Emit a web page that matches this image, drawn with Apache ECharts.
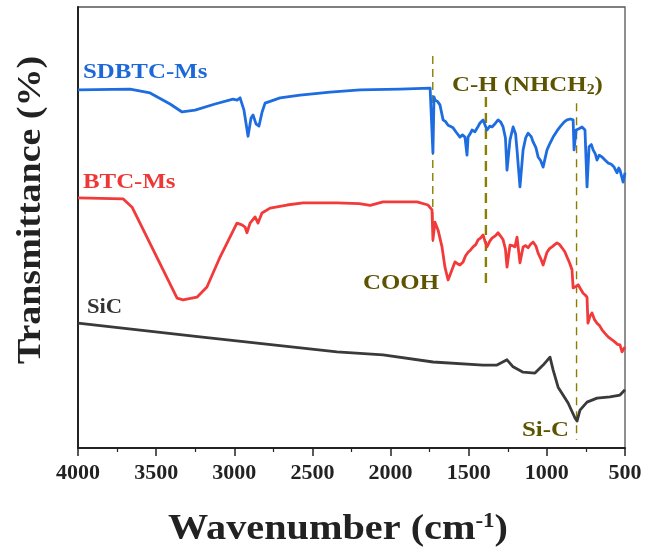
<!DOCTYPE html>
<html>
<head>
<meta charset="utf-8">
<style>
  html, body { margin: 0; padding: 0; background: #ffffff; }
  #chart { width: 652px; height: 559px; }
</style>
<script src="https://cdn.jsdelivr.net/npm/echarts@6/dist/echarts.min.js"></script>
</head>
<body>
<div id="chart"></div>
<script>
// FTIR spectra: [wavenumber (cm-1), transmittance (a.u., offset)]
const sdbtcMs = [
  [4000, 81.2], [3667, 81.4], [3539, 80.5], [3411, 78.0], [3334, 76.2], [3251, 76.6],
  [3123, 78.0], [3008, 79.1], [2982, 78.9], [2963, 79.4], [2938, 76.6], [2912, 70.7],
  [2893, 74.8], [2880, 75.5], [2861, 73.5], [2842, 73.0], [2822, 76.2], [2803, 78.2],
  [2707, 79.4], [2579, 80.0], [2387, 80.7], [2195, 81.2], [1939, 81.4], [1747, 81.6],
  [1735, 81.6], [1729, 66.9], [1722, 79.6], [1716, 78.9], [1700, 78.6], [1684, 77.8],
  [1664, 74.4], [1648, 74.0], [1632, 73.2], [1615, 72.9], [1600, 72.6], [1580, 71.6],
  [1568, 71.9], [1556, 70.5], [1540, 71.0], [1524, 70.5], [1511, 66.4], [1504, 70.5],
  [1490, 71.3], [1479, 72.1], [1460, 71.7], [1445, 72.6], [1428, 73.7], [1408, 74.4],
  [1395, 73.2], [1383, 72.1], [1365, 73.0], [1351, 72.8], [1330, 73.6], [1312, 74.4],
  [1295, 73.9], [1280, 72.8], [1265, 70.3], [1255, 63.0], [1236, 69.8], [1216, 72.8],
  [1200, 71.2], [1191, 67.6], [1172, 59.2], [1152, 67.6], [1135, 70.4], [1120, 71.4],
  [1100, 70.6], [1088, 69.4], [1070, 68.1], [1056, 66.0], [1040, 65.2], [1024, 63.7],
  [999, 67.6], [980, 69.1], [960, 70.5], [935, 71.9], [916, 72.8], [890, 73.9],
  [871, 74.4], [850, 74.6], [832, 74.4], [826, 67.6], [813, 72.1], [795, 72.4],
  [775, 72.8], [756, 72.1], [743, 59.2], [730, 68.3], [715, 68.8], [704, 67.6],
  [690, 66.7], [679, 65.3], [665, 66.4], [647, 66.0], [628, 65.3], [608, 64.6],
  [590, 64.4], [570, 63.7], [551, 62.4], [540, 63.5], [532, 63.0], [512, 60.3], [500, 62.4]
];

const btcMs = [
  [4000, 56.7], [3712, 56.5], [3654, 54.6], [3366, 34.0], [3328, 33.6], [3239, 34.2],
  [3175, 36.5], [3091, 43.3], [2983, 51.0], [2951, 50.6], [2931, 50.1], [2919, 48.8],
  [2899, 51.0], [2867, 52.4], [2848, 51.0], [2823, 53.3], [2771, 54.4], [2663, 55.1],
  [2560, 55.6], [2343, 55.6], [2200, 55.4], [2131, 55.0], [2048, 55.8], [1831, 55.8],
  [1760, 55.1], [1735, 54.0], [1729, 47.2], [1716, 51.2], [1696, 49.4], [1671, 45.6],
  [1652, 41.0], [1632, 38.1], [1607, 40.4], [1588, 42.2], [1572, 41.8], [1556, 41.5],
  [1536, 42.2], [1520, 43.6], [1504, 44.4], [1488, 44.9], [1472, 45.6], [1455, 46.1],
  [1440, 47.2], [1425, 47.6], [1408, 48.3], [1395, 46.8], [1383, 45.6], [1365, 46.9],
  [1351, 47.6], [1330, 48.1], [1312, 48.8], [1295, 48.0], [1280, 47.2], [1265, 45.1],
  [1255, 41.0], [1236, 46.0], [1220, 45.9], [1204, 45.6], [1191, 47.8], [1172, 42.0],
  [1152, 45.6], [1136, 45.9], [1120, 45.4], [1104, 46.2], [1088, 46.7], [1070, 45.8],
  [1056, 44.2], [1040, 43.0], [1024, 41.5], [999, 44.4], [983, 45.2], [967, 45.6],
  [950, 46.1], [935, 46.5], [918, 46.1], [903, 45.4], [885, 44.5], [871, 43.3],
  [855, 42.0], [839, 40.4], [832, 36.3], [815, 36.6], [800, 37.0], [785, 36.1],
  [768, 35.1], [755, 34.7], [743, 34.2], [737, 28.3], [725, 29.8], [711, 30.6],
  [695, 29.1], [679, 28.3], [662, 27.7], [647, 26.8], [628, 26.0], [608, 25.2],
  [585, 24.6], [564, 24.0], [548, 23.5], [532, 23.4], [519, 21.8], [500, 22.9]
];

const sic = [
  [4000, 28.3], [3219, 25.2], [2343, 21.8], [2048, 21.1], [1728, 19.5], [1408, 18.8],
  [1319, 18.8], [1255, 20.0], [1216, 18.4], [1152, 17.2], [1076, 17.0], [1024, 18.8],
  [980, 20.6], [960, 17.7], [928, 13.8], [864, 10.2], [820, 6.8], [807, 6.1],
  [788, 8.6], [743, 10.4], [679, 11.3], [596, 11.6], [532, 12.0], [500, 13.2]
];

// Band guide lines: wavenumber and vertical span [from, to]
const bandCOOH = [1730, 88.9, 46.7];
const bandCH = [1390, 79.6, 36.3];
const bandSiC = [810, 78.2, 1.8];

const xTicks = { min: 500, max: 4000, step: 500 };

const serif = '"Liberation Serif", "Times New Roman", serif';
const olive = '#8a7e00';
const oliveText = '#5c5400';

function guide(band, width, dash) {
  return {
    type: 'line',
    data: [[band[0], band[1]], [band[0], band[2]]],
    showSymbol: false,
    silent: true,
    z: 1,
    lineStyle: { color: olive, width: width, type: dash }
  };
}

function spectrum(data, color) {
  return {
    type: 'line',
    data: data,
    showSymbol: false,
    z: 3,
    lineStyle: { color: color, width: 2.8, join: 'round' }
  };
}

function label(text, x, y, color, size, extra) {
  return Object.assign({
    type: 'text',
    x: x, y: y,
    scaleX: 1.13,
    z: 10,
    style: {
      text: text,
      fill: color,
      fontFamily: serif,
      fontWeight: 'bold',
      fontSize: size,
      align: 'left',
      verticalAlign: 'middle'
    }
  }, extra || {});
}

const chart = echarts.init(document.getElementById('chart'));
chart.setOption({
  animation: false,
  backgroundColor: '#ffffff',
  grid: {
    left: 78, right: 27, top: 7, bottom: 111,
    show: true, borderColor: '#555', borderWidth: 1.3
  },
  xAxis: {
    type: 'value',
    inverse: true,
    min: xTicks.min, max: xTicks.max, interval: xTicks.step,
    axisLine: { lineStyle: { color: '#222', width: 2 } },
    axisTick: { length: 8, lineStyle: { color: '#222', width: 1.5 } },
    minorTick: { show: true, splitNumber: 2, length: 4, lineStyle: { color: '#222', width: 1.2 } },
    splitLine: { show: false },
    axisLabel: {
      margin: 14, color: '#222', fontFamily: serif, fontWeight: 'bold', fontSize: 22,
      formatter: function (v) { return String(v); }
    }
  },
  yAxis: {
    type: 'value',
    min: 0, max: 100,
    axisLine: { show: true, lineStyle: { color: '#222', width: 2 } },
    axisTick: { show: false },
    axisLabel: { show: false },
    splitLine: { show: false }
  },
  series: [
    guide(bandCOOH, 1.4, [8, 5]),
    guide(bandCH, 2.4, [10, 6]),
    guide(bandSiC, 1.4, [8, 6]),
    spectrum(sdbtcMs, '#1e6de0'),
    spectrum(btcMs, '#f23a3a'),
    spectrum(sic, '#3a3a3a')
  ],
  graphic: [
    label('SDBTC-Ms', 83, 72, '#1c68d8', 22),
    label('BTC-Ms', 83, 182, '#ee3737', 22),
    label('SiC', 87, 308, '#333333', 20),
    label('COOH', 363, 283, oliveText, 22),
    label('Si-C', 522, 430, oliveText, 22),
    label('C-H (NHCH{sub|2})', 452, 85, oliveText, 22, {
      style: {
        text: 'C-H (NHCH{sub|2})',
        fill: oliveText, fontFamily: serif, fontWeight: 'bold', fontSize: 22,
        align: 'left', verticalAlign: 'middle',
        rich: { sub: { fontSize: 14, fontFamily: serif, fontWeight: 'bold', fill: oliveText, padding: [10, 0, 0, 0] } }
      }
    }),
    {
      type: 'text', x: 338, y: 530, scaleX: 1.15, z: 10,
      style: {
        text: 'Wavenumber (cm{sup|-1})',
        fill: '#222', fontFamily: serif, fontWeight: 'bold', fontSize: 35,
        align: 'center', verticalAlign: 'middle',
        rich: { sup: { fontSize: 20, fontFamily: serif, fontWeight: 'bold', fill: '#222', padding: [0, 0, 16, 0] } }
      }
    },
    {
      type: 'text', x: 31, y: 210, rotation: Math.PI / 2, scaleX: 1.15, z: 10,
      style: {
        text: 'Transmittance (%)',
        fill: '#222', fontFamily: serif, fontWeight: 'bold', fontSize: 33,
        align: 'center', verticalAlign: 'middle'
      }
    }
  ]
});
</script>
</body>
</html>
